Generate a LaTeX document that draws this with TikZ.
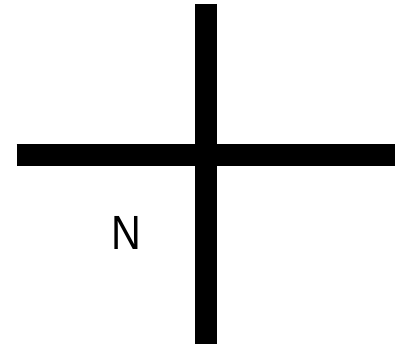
\documentclass[tikz,border=0pt]{standalone}
\usepackage{fontspec}
\setmainfont{Liberation Sans}
\begin{document}
\begin{tikzpicture}[x=1pt,y=1pt,
  bar/.style={line width=22.5pt,black},
  lab/.style={font=\fontsize{48}{52}\selectfont,inner sep=0pt,anchor=base}]
\useasboundingbox (0,0) rectangle (397,347);
\coordinate (top) at (205.8,343);
\coordinate (bot) at (205.8,3);
\coordinate (lft) at (16.7,191.8);
\coordinate (rgt) at (395,191.8);
\draw[bar] (lft) -- (rgt);
\draw[bar] (top) -- (bot);
\node[lab] (nlab) at (126.8,97.7) {\scalebox{0.86}[1]{N}};
\end{tikzpicture}
\end{document}
